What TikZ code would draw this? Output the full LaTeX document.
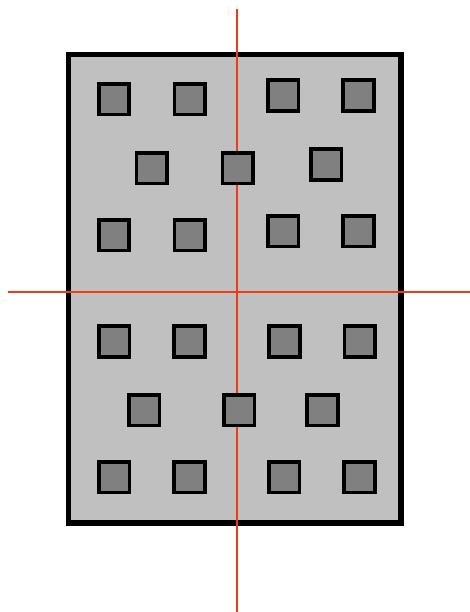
\documentclass[tikz,border=0pt]{standalone}
\usetikzlibrary{positioning}
\definecolor{cutred}{RGB}{240,60,20}
\definecolor{plate}{RGB}{192,192,192}
\definecolor{pad}{RGB}{128,128,128}
\begin{document}
\begin{tikzpicture}[x=0.75pt, y=-0.75pt, board/.style={draw=black, fill=plate, line width=3.9pt}, cut/.style={draw=cutred, line width=1.7pt}]
% Define styles for the plate and the pads
\tikzstyle{plate} = [rectangle, inner sep=0pt, minimum width=249.2pt, minimum height=351.4pt, board]
\tikzstyle{padbox} = [draw=black, fill=pad, rectangle, line width=2.8pt, inner sep=0pt, minimum size=22.9pt]
\useasboundingbox (0,0) rectangle (470,612);

% Plate
\node [plate] (board) at (234.85,288.75) {};

% Cut lines
\coordinate (cuttop) at (237.3,9);
\coordinate (cutbottom) at (237.3,612);
\coordinate (cutleft) at (8,292);
\coordinate (cutright) at (470,292);
\draw[cut] (cuttop) -- (cutbottom);
\draw[cut] (cutleft) -- (cutright);

% Upper half pads
\node [padbox] (a1) at (114,99.3) {};
\node [padbox] (a2) at (189.7,99.3) {};
\node [padbox] (a3) at (283.2,95.5) {};
\node [padbox] (a4) at (358.5,95.5) {};
\node [padbox] (b1) at (151.8,168.3) {};
\node [padbox] (b2) at (237.7,168.3) {};
\node [padbox] (b3) at (326.2,164.5) {};
\node [padbox] (c1) at (114,235.2) {};
\node [padbox] (c2) at (189.7,235.2) {};
\node [padbox] (c3) at (283.2,231.3) {};
\node [padbox] (c4) at (358.5,231.3) {};

% Lower half pads
\node [padbox] (d1) at (114.2,341.5) {};
\node [padbox] (d2) at (189.5,341.5) {};
\node [padbox] (d3) at (284.5,341.5) {};
\node [padbox] (d4) at (359.8,341.5) {};
\node [padbox] (e1) at (144.2,410.3) {};
\node [padbox] (e2) at (239.2,410.3) {};
\node [padbox] (e3) at (322.5,410.3) {};
\node [padbox] (f1) at (114.2,477.2) {};
\node [padbox] (f2) at (189.5,477.2) {};
\node [padbox] (f3) at (284.3,477.2) {};
\node [padbox] (f4) at (359.5,477.2) {};

\end{tikzpicture}
\end{document}
